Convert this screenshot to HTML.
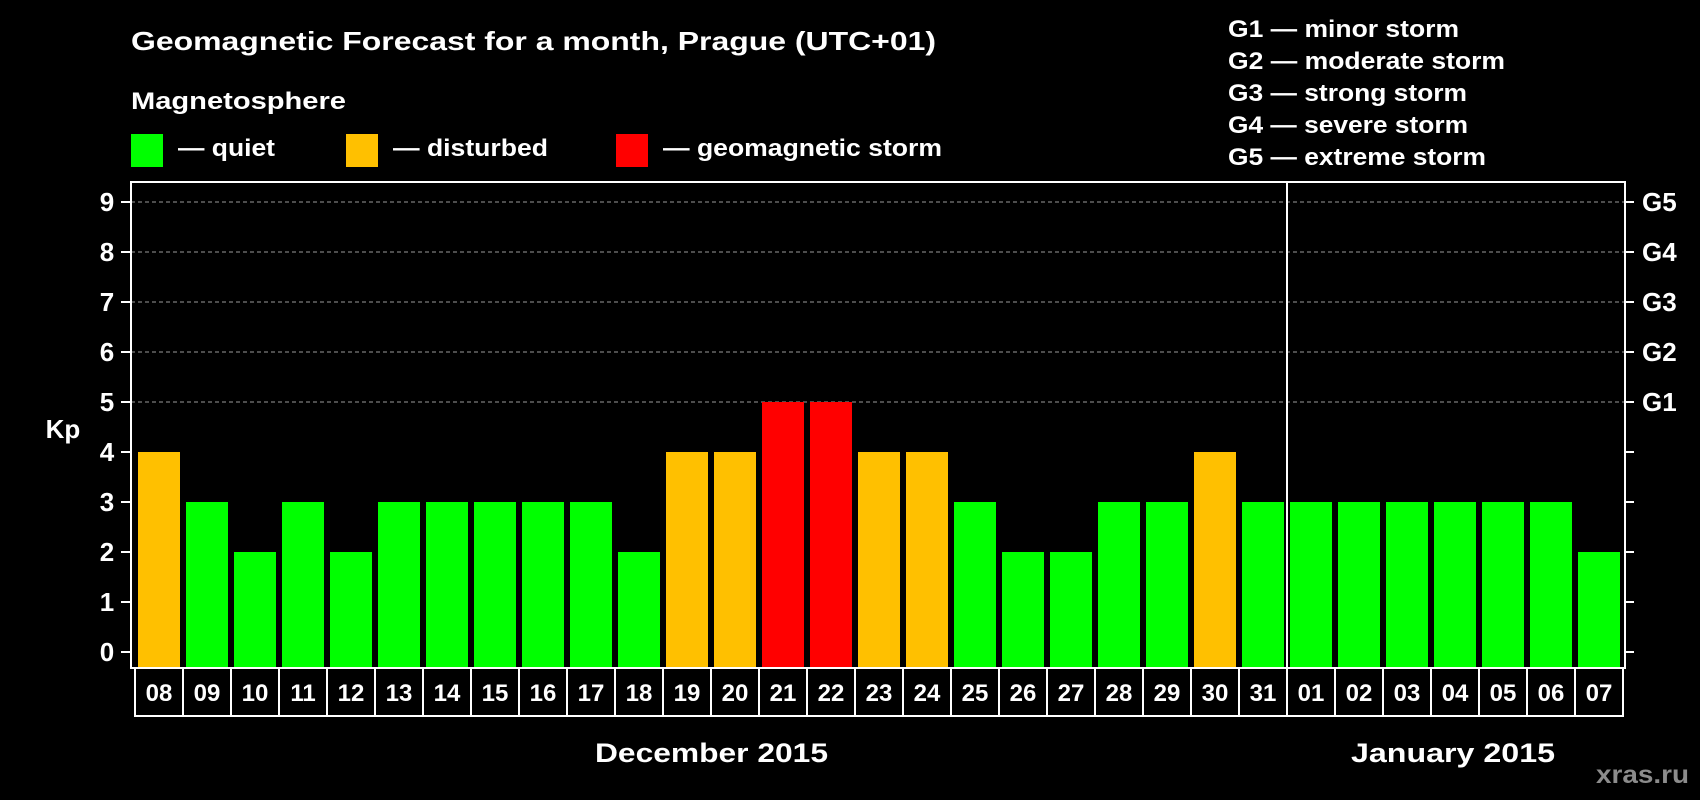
<!DOCTYPE html>
<html><head><meta charset="utf-8"><style>
html,body{margin:0;padding:0;background:#000;}
svg{display:block;font-family:"Liberation Sans",Arial,sans-serif;font-weight:bold;}
</style></head><body>
<svg id="chart" width="1700" height="800" viewBox="0 0 1700 800" xmlns="http://www.w3.org/2000/svg">
<rect width="1700" height="800" fill="#000"/>
<text x="131" y="50" fill="#fff" font-size="26" textLength="805" lengthAdjust="spacingAndGlyphs">Geomagnetic Forecast for a month, Prague (UTC+01)</text>
<text x="131" y="109" fill="#fff" font-size="24" textLength="215" lengthAdjust="spacingAndGlyphs">Magnetosphere</text>
<rect x="131" y="134" width="32" height="33" fill="#00ff00"/>
<text x="178" y="156" fill="#fff" font-size="24" textLength="97" lengthAdjust="spacingAndGlyphs">— quiet</text>
<rect x="346" y="134" width="32" height="33" fill="#ffc000"/>
<text x="393" y="156" fill="#fff" font-size="24" textLength="155" lengthAdjust="spacingAndGlyphs">— disturbed</text>
<rect x="616" y="134" width="32" height="33" fill="#ff0000"/>
<text x="663" y="156" fill="#fff" font-size="24" textLength="279" lengthAdjust="spacingAndGlyphs">— geomagnetic storm</text>
<g fill="#fff" font-size="24">
<text x="1228" y="37" textLength="231" lengthAdjust="spacingAndGlyphs">G1 — minor storm</text>
<text x="1228" y="69" textLength="277" lengthAdjust="spacingAndGlyphs">G2 — moderate storm</text>
<text x="1228" y="101" textLength="239" lengthAdjust="spacingAndGlyphs">G3 — strong storm</text>
<text x="1228" y="133" textLength="240" lengthAdjust="spacingAndGlyphs">G4 — severe storm</text>
<text x="1228" y="165" textLength="258" lengthAdjust="spacingAndGlyphs">G5 — extreme storm</text>
</g>
<text x="63" y="438" fill="#fff" font-size="26" text-anchor="middle">Kp</text>
<g id="grid"></g>
<g id="bars"></g>
<g id="axes"></g>
<text x="595" y="762" fill="#fff" font-size="27" textLength="233" lengthAdjust="spacingAndGlyphs">December 2015</text>
<text x="1351" y="762" fill="#fff" font-size="27" textLength="204" lengthAdjust="spacingAndGlyphs">January 2015</text>
<text x="1596" y="783" fill="#8c8c8c" font-size="25" textLength="93" lengthAdjust="spacingAndGlyphs">xras.ru</text>
</svg>
<script>
const days = ["08","09","10","11","12","13","14","15","16","17","18","19","20","21","22","23","24","25","26","27","28","29","30","31","01","02","03","04","05","06","07"];
const kpValues = [4,3,2,3,2,3,3,3,3,3,2,4,4,5,5,4,4,3,2,2,3,3,4,3,3,3,3,3,3,3,2];
const yTicks = [0,1,2,3,4,5,6,7,8,9];
const gLabels = ["G1","G2","G3","G4","G5"];
const gLevels = [5,6,7,8,9];
const monthSplitIndex = 24;

const NS = "http://www.w3.org/2000/svg";
const plotL = 131, plotR = 1625, plotT = 182, plotB = 668, boxB = 716;
const step = 48, x0 = 135;
function y(v){ return 652 - v * 50; }
function xLeft(i){ return x0 + i * step; }
function color(v){ return v >= 5 ? "#ff0000" : (v >= 4 ? "#ffc000" : "#00ff00"); }
function mk(tag, attrs, parent){ const e = document.createElementNS(NS, tag); for (const k in attrs) e.setAttribute(k, attrs[k]); parent.appendChild(e); return e; }

const grid = document.getElementById("grid");
const bars = document.getElementById("bars");
const axes = document.getElementById("axes");

gLevels.forEach(function(v){
  const l = mk("line", {x1: plotL, x2: plotR, y1: y(v), y2: y(v), stroke: "#9a9a9a", "stroke-width": 1, "stroke-dasharray": "4,3"}, grid);
  
  
});

kpValues.forEach(function(v, i){
  const r = mk("rect", {x: xLeft(i) + 3, y: y(v), width: 42, height: plotB - y(v), fill: color(v)}, bars);
  
  
});

const frame = mk("rect", {x: plotL, y: plotT, width: plotR - plotL, height: plotB - plotT, fill: "none", stroke: "#fff", "stroke-width": 2}, axes);



yTicks.forEach(function(v){
  const t1 = mk("line", {x1: 121, x2: plotL, y1: y(v), y2: y(v), stroke: "#fff", "stroke-width": 2}, axes);
  
  
  const t2 = mk("line", {x1: plotR, x2: 1634, y1: y(v), y2: y(v), stroke: "#fff", "stroke-width": 2}, axes);
  
  
  const tx = mk("text", {x: 107, y: y(v) + 9, fill: "#fff", "font-size": 26, "text-anchor": "middle"}, axes);
  tx.textContent = v;
  
  
});

gLevels.forEach(function(v, i){
  const tx = mk("text", {x: 1642, y: y(v) + 9, fill: "#fff", "font-size": 26}, axes);
  tx.textContent = gLabels[i];
  
  
});

const box = mk("rect", {x: x0, y: plotB, width: days.length * step, height: boxB - plotB, fill: "none", stroke: "#fff", "stroke-width": 2}, axes);


days.forEach(function(d, i){
  if (i > 0) {
    const l = mk("line", {x1: xLeft(i), x2: xLeft(i), y1: plotB, y2: boxB, stroke: "#fff", "stroke-width": 2}, axes);
    
    
  }
  const tx = mk("text", {x: xLeft(i) + step / 2, y: plotB + 33, fill: "#fff", "font-size": 24, "text-anchor": "middle"}, axes);
  tx.textContent = d;
  
  
});

const sep = mk("line", {x1: xLeft(monthSplitIndex), x2: xLeft(monthSplitIndex), y1: plotT, y2: boxB, stroke: "#fff", "stroke-width": 2}, axes);


</script>
</body></html>
